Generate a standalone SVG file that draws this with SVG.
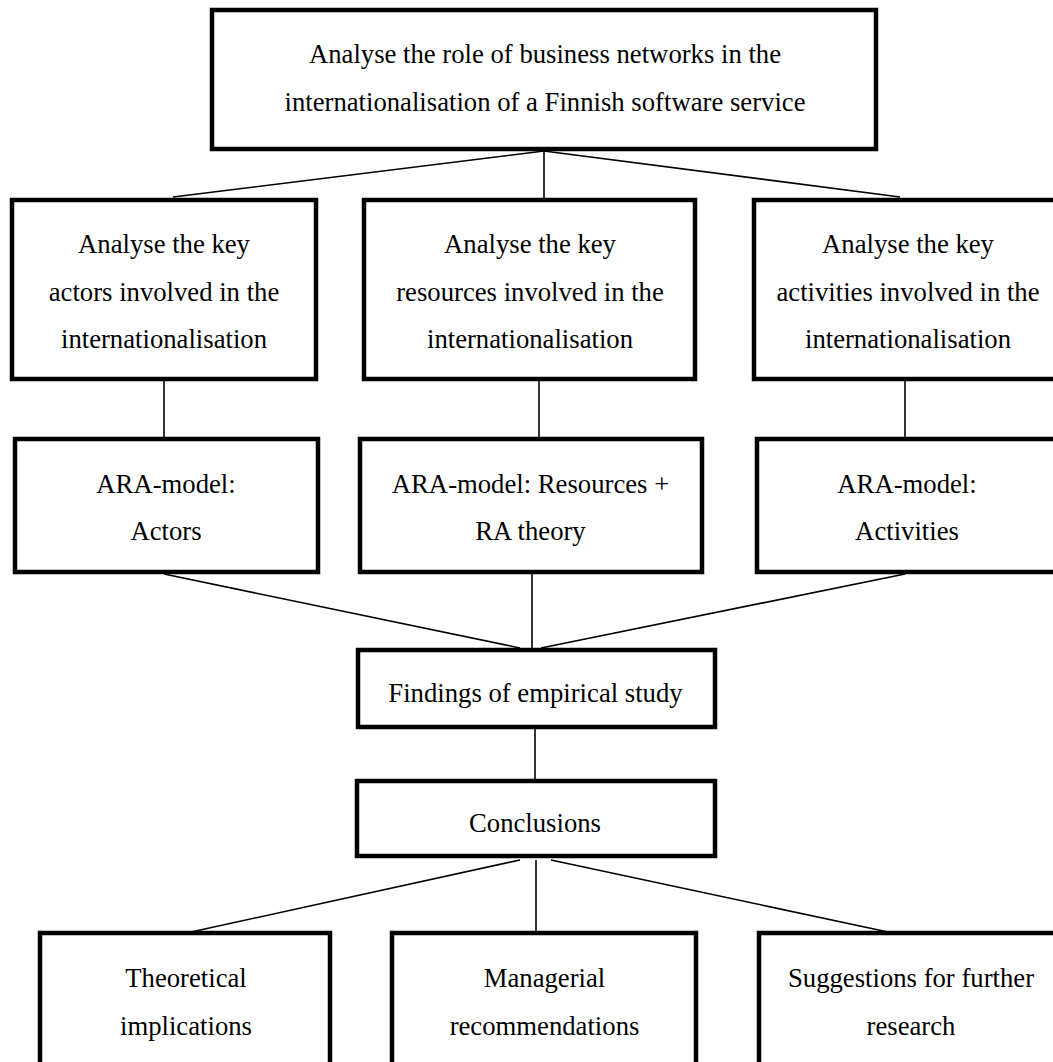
<svg xmlns="http://www.w3.org/2000/svg" width="1053" height="1062" viewBox="0 0 1053 1062">
  <style>
    .box { fill: #ffffff; stroke: #000000; stroke-width: 4.5; }
    .link { stroke: #000000; stroke-width: 1.6; fill: none; }
    .label { font-family: "Liberation Serif", "Times New Roman", serif; font-size: 26.7px; fill: #000000; text-anchor: middle; }
  </style>
  <rect width="1053" height="1062" fill="#ffffff"/>

  <!-- connectors -->
  <g id="connectors">
    <line class="link" x1="544" y1="151" x2="544" y2="198"/>
    <line class="link" x1="544" y1="151" x2="173" y2="197"/>
    <line class="link" x1="544" y1="151" x2="900" y2="197"/>

    <line class="link" x1="164" y1="381" x2="164" y2="437"/>
    <line class="link" x1="539" y1="381" x2="539" y2="437"/>
    <line class="link" x1="905" y1="381" x2="905" y2="437"/>

    <line class="link" x1="164" y1="574" x2="520" y2="648"/>
    <line class="link" x1="532" y1="574" x2="532" y2="648"/>
    <line class="link" x1="905" y1="574" x2="541" y2="648"/>

    <line class="link" x1="535" y1="729" x2="535" y2="779"/>

    <line class="link" x1="520" y1="860" x2="191" y2="932"/>
    <line class="link" x1="536" y1="860" x2="536" y2="932"/>
    <line class="link" x1="551" y1="860" x2="888" y2="932"/>
  </g>

  <!-- top objective -->
  <g id="goal">
    <rect class="box" x="212" y="10" width="664" height="139"/>
    <text class="label" x="545" y="63">Analyse the role of business networks in the</text>
    <text class="label" x="545" y="110.5">internationalisation of a Finnish software service</text>
  </g>

  <!-- sub-objectives -->
  <g id="actors-goal">
    <rect class="box" x="12" y="200" width="304" height="179"/>
    <text class="label" x="164" y="253">Analyse the key</text>
    <text class="label" x="164" y="300.5">actors involved in the</text>
    <text class="label" x="164" y="348">internationalisation</text>
  </g>
  <g id="resources-goal">
    <rect class="box" x="364" y="200" width="331" height="179"/>
    <text class="label" x="530" y="253">Analyse the key</text>
    <text class="label" x="530" y="300.5">resources involved in the</text>
    <text class="label" x="530" y="348">internationalisation</text>
  </g>
  <g id="activities-goal">
    <rect class="box" x="754" y="200" width="320" height="179"/>
    <text class="label" x="908" y="253">Analyse the key</text>
    <text class="label" x="908" y="300.5">activities involved in the</text>
    <text class="label" x="908" y="348">internationalisation</text>
  </g>

  <!-- theory -->
  <g id="ara-actors">
    <rect class="box" x="15" y="439" width="303" height="133"/>
    <text class="label" x="166" y="493">ARA-model:</text>
    <text class="label" x="166" y="540">Actors</text>
  </g>
  <g id="ara-resources">
    <rect class="box" x="360" y="439" width="342" height="133"/>
    <text class="label" x="530.5" y="493">ARA-model: Resources +</text>
    <text class="label" x="530.5" y="540">RA theory</text>
  </g>
  <g id="ara-activities">
    <rect class="box" x="757" y="439" width="320" height="133"/>
    <text class="label" x="907" y="493">ARA-model:</text>
    <text class="label" x="907" y="540">Activities</text>
  </g>

  <!-- empirical part -->
  <g id="findings">
    <rect class="box" x="358" y="650" width="357" height="77"/>
    <text class="label" x="535.5" y="701.5">Findings of empirical study</text>
  </g>
  <g id="conclusions">
    <rect class="box" x="357" y="781" width="358" height="75"/>
    <text class="label" x="535" y="831.5">Conclusions</text>
  </g>

  <!-- outcomes -->
  <g id="theoretical">
    <rect class="box" x="40" y="933" width="290" height="160"/>
    <text class="label" x="186" y="987">Theoretical</text>
    <text class="label" x="186" y="1035">implications</text>
  </g>
  <g id="managerial">
    <rect class="box" x="392" y="933" width="304" height="160"/>
    <text class="label" x="544.5" y="987">Managerial</text>
    <text class="label" x="544.5" y="1035">recommendations</text>
  </g>
  <g id="further-research">
    <rect class="box" x="759" y="933" width="320" height="160"/>
    <text class="label" x="911" y="987">Suggestions for further</text>
    <text class="label" x="911" y="1035">research</text>
  </g>
</svg>
